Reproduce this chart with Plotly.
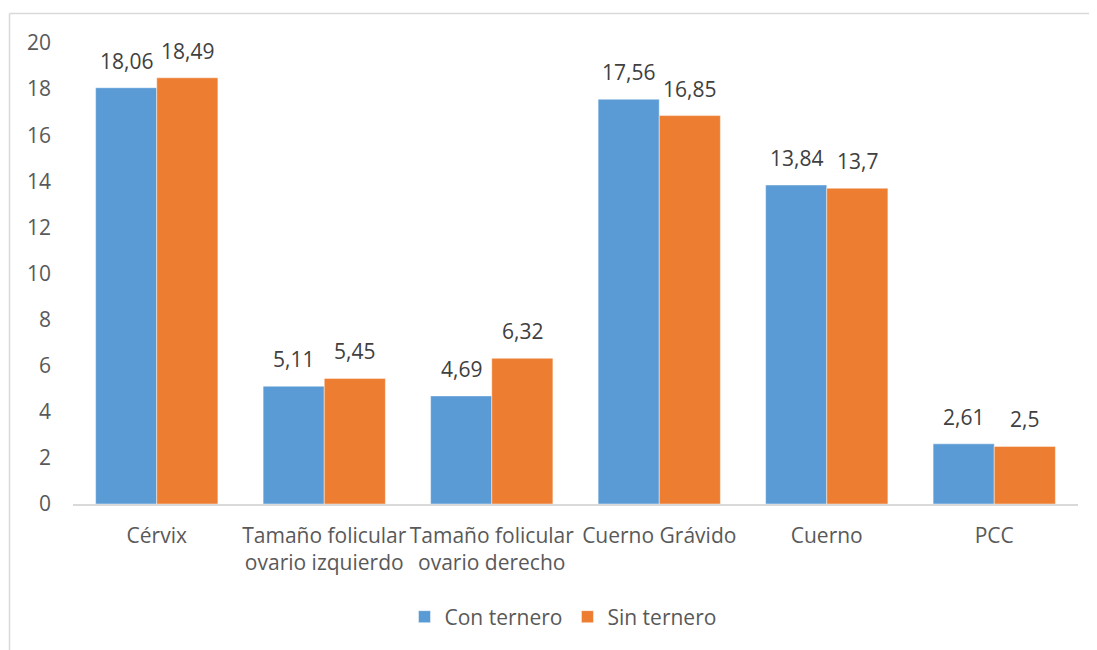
import plotly.graph_objects as go

categories = ["Cérvix", "Tamaño folicular<br>ovario izquierdo", "Tamaño folicular<br>ovario derecho",
              "Cuerno Grávido", "Cuerno", "PCC"]
con_ternero = [18.06, 5.11, 4.69, 17.56, 13.84, 2.61]
sin_ternero = [18.49, 5.45, 6.32, 16.85, 13.7, 2.5]
y_ticks = [0, 2, 4, 6, 8, 10, 12, 14, 16, 18, 20]

def fmt(v):
    return f"{v:g}".replace(".", ",")

FONT = "Open Sans, Liberation Sans, sans-serif"
SZ = 21

fig = go.Figure()
fig.add_trace(go.Bar(name="Con ternero", x=categories, y=con_ternero,
                     marker=dict(color="#5B9BD5", line=dict(width=1, color="rgba(255,255,255,0.45)"))))
fig.add_trace(go.Bar(name="Sin ternero", x=categories, y=sin_ternero,
                     marker=dict(color="#ED7D31", line=dict(width=1, color="rgba(255,255,255,0.45)"))))

# page body has an 8px margin; figure sized to fill the remaining viewport
OFF = 8
W, H = 1097 - OFF, 650 - OFF
L, R, T, B = 73 - OFF, 19, 43 - OFF, 146
pw, ph = W - L - R, H - T - B

BARGAP = 0.27
bar_px = pw / len(categories) * (1 - BARGAP) / 2

annotations = []
for vals, sign in ((con_ternero, -1), (sin_ternero, 1)):
    for c, v in zip(categories, vals):
        annotations.append(dict(x=c, y=v, xref="x", yref="y", text=fmt(v), showarrow=False,
                                xshift=sign * bar_px / 2, yanchor="bottom", yshift=11,
                                font=dict(size=SZ, color="#404040", family=FONT)))

fig.update_layout(
    width=W, height=H,
    margin=dict(l=L, r=R, t=T, b=B),
    plot_bgcolor="white", paper_bgcolor="white",
    barmode="group", bargap=BARGAP, bargroupgap=0,
    font=dict(family=FONT, size=SZ, color="#595959"),
    showlegend=True,
    legend=dict(orientation="h", x=(563 - 73) / 1005, xanchor="center", y=(496 - 609) / ph, yanchor="middle",
                font=dict(size=SZ, color="#595959"), itemwidth=30, traceorder="normal"),
    xaxis=dict(showline=True, linecolor="#d9d9d9", linewidth=1.5, showgrid=False,
               ticks="", tickfont=dict(size=SZ, color="#595959"), ticklabelstandoff=12),
    yaxis=dict(range=[0, 20], tickvals=y_ticks, showgrid=False, zeroline=False, showline=False,
               ticks="", tickfont=dict(size=SZ, color="#595959"), ticklabelstandoff=21),
    annotations=annotations,
    shapes=[
        dict(type="line", xref="paper", yref="paper",
             x0=(1.5 - L) / pw, x1=(W + 5 - L) / pw, y0=(496 - 5.5) / ph, y1=(496 - 5.5) / ph,
             line=dict(color="#d9d9d9", width=1.5)),
        dict(type="line", xref="paper", yref="paper",
             x0=(1.5 - L) / pw, x1=(1.5 - L) / pw, y0=(496 - 5.5) / ph, y1=(496 - H - 5) / ph,
             line=dict(color="#d9d9d9", width=1.5)),
    ],
)

fig.write_html("out.html")
